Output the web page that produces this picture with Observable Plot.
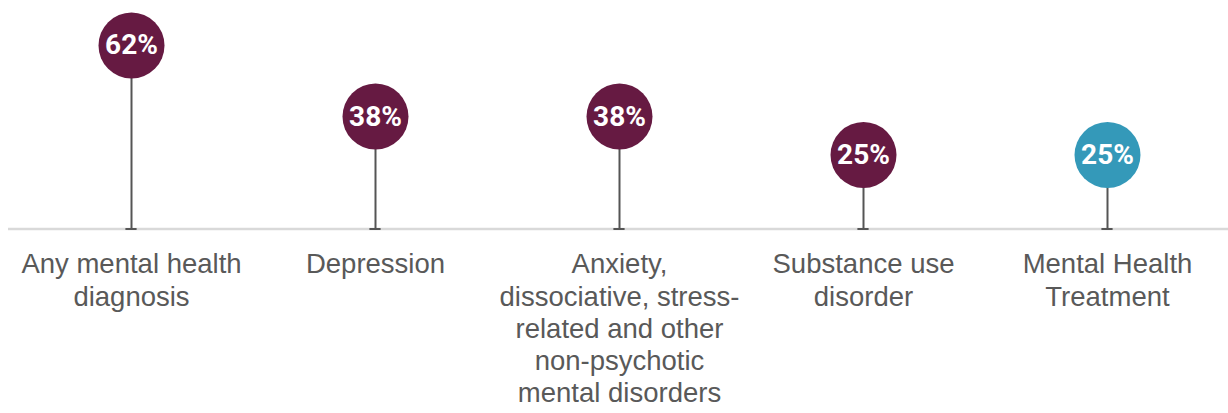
<!DOCTYPE html>
<html>
<head>
<meta charset="utf-8">
<script src="https://cdn.jsdelivr.net/npm/d3@7"></script>
<script src="https://cdn.jsdelivr.net/npm/@observablehq/plot@0.6"></script>
<style>
  html, body { margin: 0; padding: 0; background: #fff; }
  #chart svg { display: block; }
</style>
</head>
<body>
<div id="chart"></div>
<script>
const categories = [
  "Any mental health diagnosis",
  "Depression",
  "Anxiety, dissociative, stress-related and other non-psychotic mental disorders",
  "Substance use disorder",
  "Mental Health Treatment"
];
const tickLabels = [
  "Any mental health\ndiagnosis",
  "Depression",
  "Anxiety,\ndissociative, stress-\nrelated and other\nnon-psychotic\nmental disorders",
  "Substance use\ndisorder",
  "Mental Health\nTreatment"
];
const values = [62, 38, 38, 25, 25];
const groups = ["diagnosis", "diagnosis", "diagnosis", "diagnosis", "treatment"];

const data = categories.map((c, i) => ({category: c, value: values[i], group: groups[i]}));
const labelOf = new Map(categories.map((c, i) => [c, tickLabels[i]]));

const chart = Plot.plot({
  width: 1228,
  height: 413,
  marginTop: 0,
  marginLeft: 7,
  marginRight: -3,
  marginBottom: 185,
  style: {fontFamily: "'Liberation Sans', Arial, sans-serif", background: "#fff"},
  x: {domain: categories, padding: 0, axis: null, label: null},
  y: {domain: [0, 62], range: [228.5, 45], axis: null},
  color: {domain: ["diagnosis", "treatment"], range: ["#661a42", "#3499b9"]},
  marks: [
    Plot.ruleY([0], {stroke: "#d9d9d9", strokeWidth: 2.5, insetLeft: 1, insetRight: 3}),
    Plot.ruleX(data, {x: "category", y1: 0, y2: "value", stroke: "#555", strokeWidth: 2}),
    Plot.tickY(data, {x: "category", y: 0, stroke: "#555", strokeWidth: 2, insetLeft: 116.4, insetRight: 116.4}),
    Plot.dot(data, {x: "category", y: "value", r: 33, fill: "group", stroke: null}),
    Plot.text(data, {x: "category", y: "value", text: d => d.value + "%", fill: "white", fontSize: 28, fontWeight: "bold", fontFamily: "Roboto, 'Liberation Sans', sans-serif"}),
    Plot.axisX({
      label: null,
      tickSize: 0,
      tickPadding: 22,
      tickFormat: d => labelOf.get(d),
      fontSize: 27.5,
      lineHeight: 1.17,
      fill: "#595959",
      stroke: null
    })
  ]
});
document.getElementById("chart").append(chart);
</script>
</body>
</html>
